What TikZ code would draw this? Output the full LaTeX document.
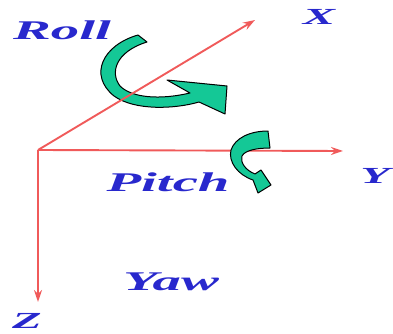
\documentclass[tikz,border=0pt]{standalone}
\usepackage{fontspec}
\setmainfont{Liberation Serif}
\usetikzlibrary{arrows.meta}
\definecolor{axisred}{RGB}{240,90,90}
\definecolor{labelblue}{RGB}{40,40,205}
\definecolor{turngreen}{RGB}{20,200,150}
\newcommand{\wide}[1]{\scalebox{2.1}[1]{#1}}
\tikzset{
  axis/.style={axisred, line width=1.9pt, -{Stealth[length=12pt,width=8pt,inset=4pt]}},
  bigname/.style={text=labelblue, anchor=base, inner sep=0pt, font=\fontsize{27}{27}\selectfont\bfseries\itshape},
  axisname/.style={text=labelblue, anchor=base, inner sep=0pt, font=\fontsize{23}{23}\selectfont\bfseries\itshape},
  turn/.style={fill=turngreen, draw=black, line width=1pt, line join=round}
}
\begin{document}
\begin{tikzpicture}[x=1pt,y=-1pt]
\useasboundingbox (0,0) rectangle (393,334);
\coordinate (O) at (38,150);
\coordinate (xend) at (255,20);
\coordinate (yend) at (343,151);
\coordinate (zend) at (38,302);

\draw[axis] (O) -- (yend);
\draw[axis] (O) -- (zend);

\draw[turn] (147,42) -- (138,35) .. controls (103,45) and (88,75) .. (114,96)
            .. controls (135,111) and (175,109) .. (199,102) -- (225,114) -- (227,86) -- (167,80)
            -- (190,93) .. controls (160,100) and (132,98) .. (120,86)
            .. controls (110,73) and (115,52) .. (147,42) -- cycle;
\draw[turn] (268,131) .. controls (250,131) and (235,138) .. (231,150)
            .. controls (228,162) and (238,175) .. (253,180) -- (258,193) -- (271,185) -- (261,170)
            -- (255,174) .. controls (245,170) and (240,162) .. (242,156)
            .. controls (245,150) and (258,148) .. (270,148) -- cycle;

\draw[axis] (O) -- (xend);

\node[bigname] (roll) at (62,40) {\wide{Roll}};
\node[bigname] (pitch) at (168,191) {\wide{Pitch}};
\node[bigname] (yaw) at (171,290) {\wide{Yaw}};
\node[axisname] (xname) at (319,25) {\wide{X}};
\node[axisname] (yname) at (375,183) {\wide{Y}};
\node[axisname] (zname) at (27,328) {\wide{Z}};
\end{tikzpicture}
\end{document}
